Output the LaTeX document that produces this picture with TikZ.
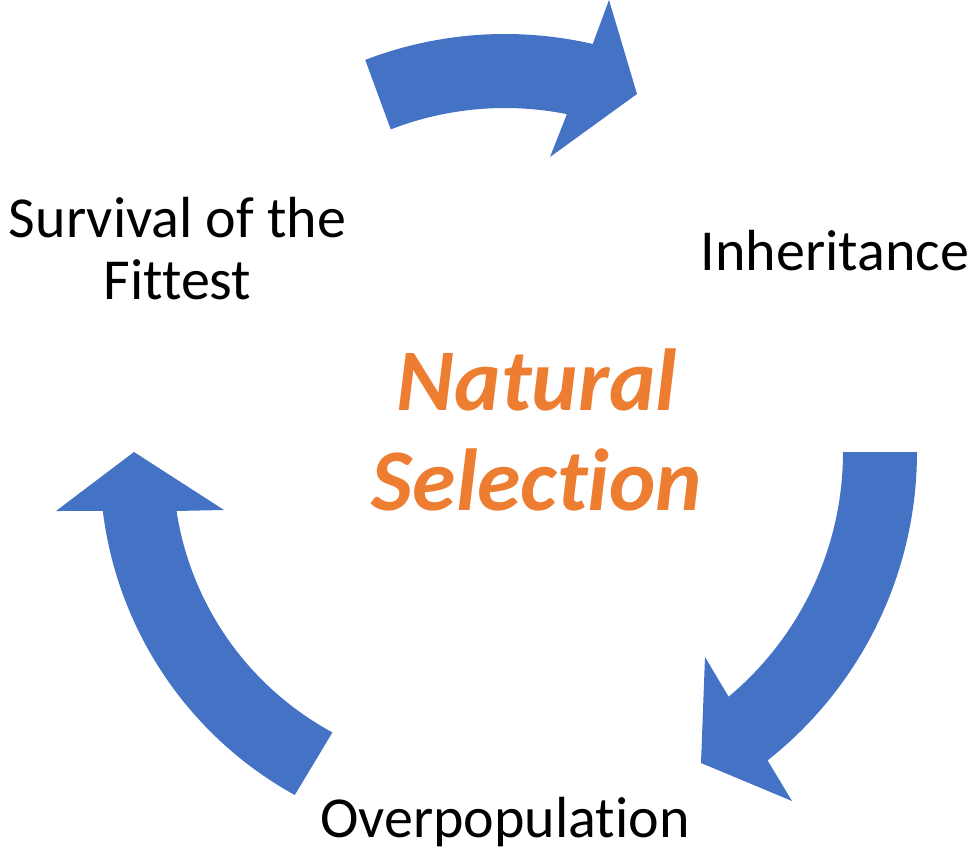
\documentclass[tikz,border=0pt]{standalone}
\usepackage{fontspec}
\setmainfont{Carlito}[Ligatures={NoCommon}]
\usetikzlibrary{calc}
\definecolor{arrowblue}{HTML}{4472C4}
\definecolor{titleorange}{HTML}{ED7D31}
\begin{document}
\begin{tikzpicture}[x=1pt,y=-1pt,
  cyclearrow/.style={fill=arrowblue,draw=none},
  steplabel/.style={font=\fontsize{58}{62}\selectfont,align=center,inner sep=0pt,anchor=base,text=black},
  titlelabel/.style={font=\fontsize{88}{100}\selectfont\bfseries\itshape,align=center,inner sep=0pt,anchor=base,text=titleorange}]
\useasboundingbox (0,0) rectangle (974,851);
\coordinate (ctop) at (505,424);
\coordinate (cright) at (524,452);
\coordinate (cleft) at (477,465);
% top arrow
\fill[cyclearrow] ($(ctop)+(-111:390)$) arc[start angle=-111,end angle=-77,radius=390]
  -- (609,0) -- (637,94) -- (550,157)
  -- ($(ctop)+(-78.7:316)$) arc[start angle=-78.7,end angle=-111.2,radius=316] -- cycle;
% right arrow
\fill[cyclearrow] ($(cright)+(0:393)$) arc[start angle=0,end angle=51.7,radius=393]
  -- (792,801) -- (701,763) -- (705,657)
  -- ($(cright)+(50.1:319)$) arc[start angle=50.1,end angle=0,radius=319] -- cycle;
% left arrow
\fill[cyclearrow] ($(cleft)+(118.9:377)$) arc[start angle=118.9,end angle=173,radius=377]
  -- (56,511) -- (134,452) -- (224,510)
  -- ($(cleft)+(171.3:304)$) arc[start angle=171.3,end angle=118.4,radius=304] -- cycle;
\node[steplabel] (survival) at (177.5,299) {Survival of the\\Fittest};
\node[steplabel] (inherit) at (835,270) {Inheritance};
\node[steplabel] (overpop) at (505,837) {Overpopulation};
\node[titlelabel] (natsel) at (537,510) {Natural\\Selection};
\end{tikzpicture}
\end{document}
